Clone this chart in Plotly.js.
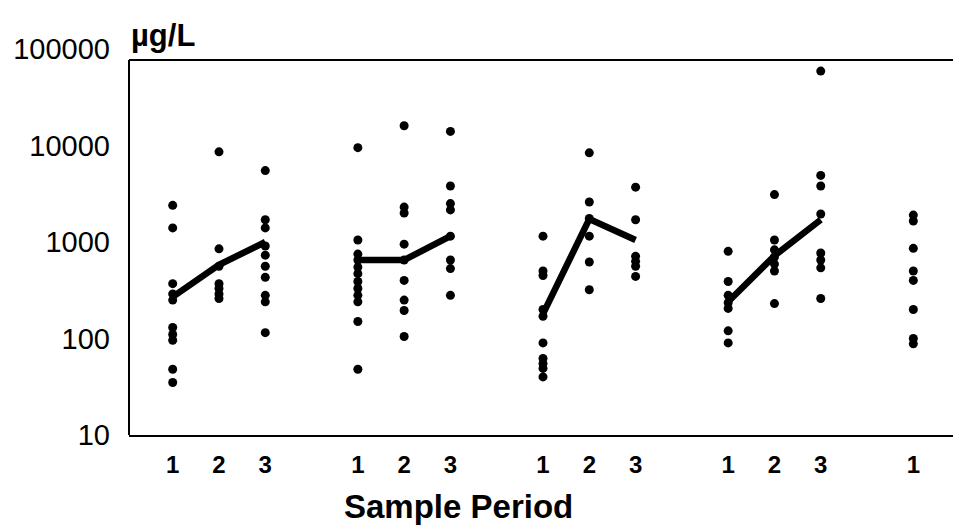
<!DOCTYPE html>
<html>
<head>
<meta charset="utf-8">
<script src="https://cdn.plot.ly/plotly-3.0.1.min.js"></script>
<style>html,body{margin:0;padding:0;background:#fff;}#chart{width:953px;height:525px;}</style>
</head>
<body>
<div id="chart"></div>
<script>
// x positions of each sample period (gaps of one slot between sites)
const periodPositions = [0, 1, 2, 4, 5, 6, 8, 9, 10, 12, 13, 14, 16];
const periodLabels = ['1', '2', '3', '1', '2', '3', '1', '2', '3', '1', '2', '3', '1'];

// individual concentrations (µg/L), one array per sample period
const g1p1 = [2400, 1400, 370, 290, 250, 130, 110, 96, 48, 35];
const g1p2 = [8600, 850, 560, 370, 330, 290, 260];
const g1p3 = [5500, 1700, 1400, 910, 730, 560, 430, 280, 240, 115];
const g2p1 = [9500, 1050, 750, 650, 550, 470, 390, 330, 280, 240, 150, 48];
const g2p2 = [16000, 2300, 2000, 950, 650, 400, 250, 195, 105];
const g2p3 = [14000, 3800, 2500, 2150, 1150, 650, 530, 280];
const g3p1 = [1150, 500, 450, 200, 170, 90, 62, 55, 49, 40];
const g3p2 = [8400, 2600, 1750, 1150, 620, 320];
const g3p3 = [3700, 1700, 710, 630, 560, 440];
const g4p1 = [800, 390, 280, 235, 205, 120, 90];
const g4p2 = [3100, 1050, 830, 700, 590, 500, 230];
const g4p3 = [59000, 4900, 3800, 1950, 770, 650, 540, 260];
const g5p1 = [1900, 1650, 860, 500, 400, 200, 100, 88];

// central-tendency lines per site
const line1 = [270, 580, 1000];
const line2 = [650, 650, 1150];
const line3 = [180, 1730, 1050];
const line4 = [240, 720, 1700];

const yTickVals = [10, 100, 1000, 10000, 100000];
const yTickText = ['10', '100', '1000', '10000', '100000'];
const xTitle = 'Sample Period';
const yUnit = 'µg/L';

const allPeriods = [g1p1, g1p2, g1p3, g2p1, g2p2, g2p3, g3p1, g3p2, g3p3, g4p1, g4p2, g4p3, g5p1];
const lineSets = [line1, line2, line3, line4];

const dotX = [], dotY = [];
allPeriods.forEach((vals, i) => {
  vals.forEach(v => { dotX.push(periodPositions[i]); dotY.push(v); });
});

const traces = [];
lineSets.forEach((vals, g) => {
  traces.push({
    type: 'scatter', mode: 'lines',
    x: periodPositions.slice(g * 3, g * 3 + 3), y: vals,
    line: {color: '#000', width: 6.5}, hoverinfo: 'skip', showlegend: false
  });
});
traces.push({
  type: 'scatter', mode: 'markers', x: dotX, y: dotY,
  marker: {color: '#000', size: 9}, showlegend: false
});

const fontFam = 'Liberation Sans, Arial, sans-serif';
const layout = {
  width: 953, height: 525,
  margin: {l: 129, r: 0, t: 49, b: 90},
  paper_bgcolor: '#fff', plot_bgcolor: '#fff',
  showlegend: false,
  xaxis: {
    range: [-0.944, 16.857],
    tickvals: periodPositions, ticktext: periodLabels,
    tickfont: {family: fontFam, size: 24, color: '#000', weight: 'bold'},
    ticks: '', showgrid: false, zeroline: false,
    showline: true, linecolor: '#000', linewidth: 2,
    ticklabelstandoff: 7
  },
  yaxis: {
    type: 'log', range: [1, 5],
    tickvals: yTickVals, ticktext: yTickText,
    tickfont: {family: fontFam, size: 29, color: '#000'},
    ticks: '', showgrid: false, zeroline: false, showline: false,
    ticklabelstandoff: 18
  },
  shapes: [
    {type: 'line', xref: 'paper', yref: 'paper', x0: 0, x1: 0, y0: 0, y1: 0.9715, line: {color: '#000', width: 2}},
    {type: 'line', xref: 'paper', yref: 'paper', x0: 0, x1: 1, y0: 0.9715, y1: 0.9715, line: {color: '#000', width: 2}}
  ],
  annotations: [
    {text: yUnit, xref: 'paper', yref: 'paper', x: 0, y: 1, xanchor: 'left', yanchor: 'bottom',
     showarrow: false, font: {family: fontFam, size: 31, color: '#000', weight: 'bold'}, yshift: -6},
    {text: xTitle, xref: 'paper', yref: 'paper', x: 0.4, y: -0.1865, xanchor: 'center', yanchor: 'middle',
     showarrow: false, font: {family: fontFam, size: 33, color: '#000', weight: 'bold'}}
  ]
};

Plotly.newPlot('chart', traces, layout, {displayModeBar: false, staticPlot: true});
</script>
</body>
</html>
